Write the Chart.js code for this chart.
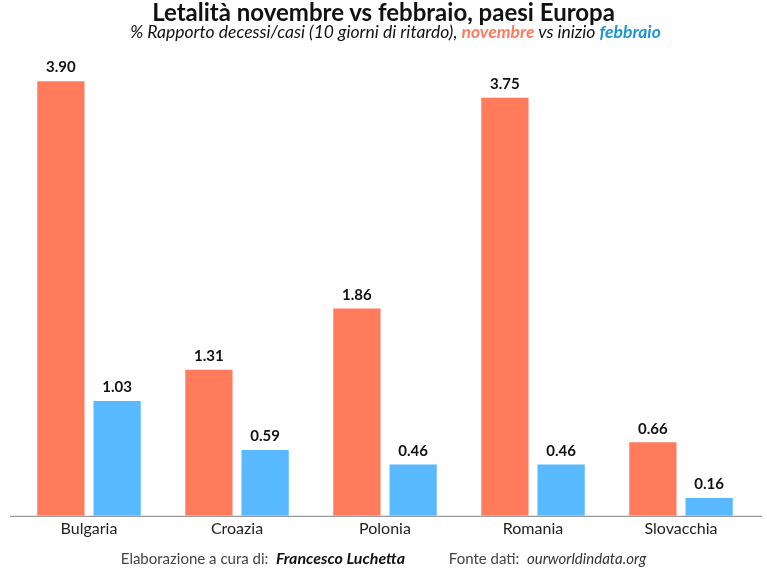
<!DOCTYPE html>
<html>
<head>
<meta charset="utf-8">
<script src="https://cdn.jsdelivr.net/npm/chart.js@4.4.0/dist/chart.umd.min.js"></script>
<style>
  body { margin: 0; background: #fff; font-family: Lato, "Open Sans", sans-serif; }
  #wrap { position: relative; width: 767px; height: 568px; }
  #chart { position: absolute; left: 0; top: 0; }
  .title { position: absolute; top: -3px; left: 0; width: 767px; text-align: center;
    font-size: 24px; font-weight: bold; color: #111; }
  .sub { position: absolute; top: 21px; left: 0; width: 767px; text-align: center; padding-left: 24px; box-sizing: border-box;
    font-size: 17.5px; font-style: italic; color: #111; }
  .sub .nov { color: #FF7B5C; font-weight: bold; }
  .sub .feb { color: #1E95D3; font-weight: bold; }
  .foot { position: absolute; top: 548px; left: 0; width: 767px; text-align: center;
    font-size: 15px; color: #444; }
  .foot b { font-style: italic; color: #111; font-size: 16px; margin-right: 40px; }
  .foot i { color: #333; }
</style>
</head>
<body>
<div id="wrap">
  <canvas id="chart" width="767" height="568"></canvas>
  <div class="title">Letalità novembre vs febbraio, paesi Europa</div>
  <div class="sub">% Rapporto decessi/casi (10 giorni di ritardo), <span class="nov">novembre</span> vs inizio <span class="feb">febbraio</span></div>
  <div class="foot">Elaborazione a cura di:&nbsp; <b>Francesco Luchetta</b> Fonte dati:&nbsp; <i>ourworldindata.org</i></div>
</div>
<script>
const countries = ["Bulgaria", "Croazia", "Polonia", "Romania", "Slovacchia"];
const novembre = [3.90, 1.31, 1.86, 3.75, 0.66];
const febbraio = [1.03, 0.59, 0.46, 0.46, 0.16];

// value labels above the bars + baseline
const barLabels = {
  id: "barLabels",
  afterDatasetsDraw(chart) {
    const ctx = chart.ctx;
    ctx.save();
    ctx.font = "bold 15px Lato, 'Open Sans', sans-serif";
    ctx.fillStyle = "#111";
    ctx.textAlign = "center";
    ctx.textBaseline = "bottom";
    chart.data.datasets.forEach((ds, i) => {
      chart.getDatasetMeta(i).data.forEach((bar, j) => {
        ctx.fillText(ds.data[j].toFixed(2), bar.x, bar.y - 6);
      });
    });
    const area = chart.chartArea;
    ctx.strokeStyle = "#7f7f7f";
    ctx.lineWidth = 1;
    ctx.beginPath();
    ctx.moveTo(area.left - 5, area.bottom + 0.5);
    ctx.lineTo(area.right + 7, area.bottom + 0.5);
    ctx.stroke();
    ctx.restore();
  }
};

new Chart(document.getElementById("chart").getContext("2d"), {
  type: "bar",
  data: {
    labels: countries,
    datasets: [
      { label: "novembre", data: novembre, backgroundColor: "#FF7B5C" },
      { label: "febbraio", data: febbraio, backgroundColor: "#58B9FF" }
    ]
  },
  options: {
    responsive: false,
    animation: false,
    layout: { padding: { top: 70, left: 15, right: 12, bottom: 27 } },
    categoryPercentage: 0.76,
    barPercentage: 0.84,
    plugins: {
      legend: { display: false },
      tooltip: { enabled: false }
    },
    scales: {
      x: {
        grid: { display: false, drawTicks: false },
        border: { display: false },
        ticks: { color: "#222", font: { family: "Lato, 'Open Sans', sans-serif", size: 16 }, padding: 3 }
      },
      y: { display: false, min: 0, max: 4 }
    }
  },
  plugins: [barLabels]
});
</script>
</body>
</html>
